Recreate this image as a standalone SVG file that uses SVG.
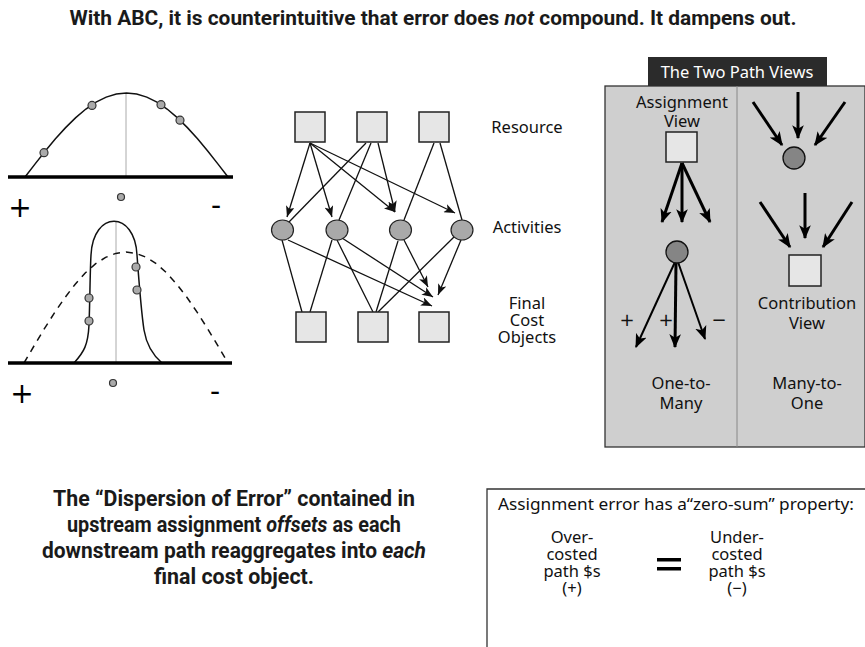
<svg xmlns="http://www.w3.org/2000/svg" width="865" height="647" viewBox="0 0 865 647">
<style>
.t{font-family:"Noto Sans","Open Sans",sans-serif;font-size:16.5px;fill:#111;text-anchor:middle}
.hb{font-family:"Liberation Sans Narrow","Roboto","Liberation Sans",sans-serif;font-weight:bold;fill:#1a1a1a;text-anchor:middle}
.box{fill:#e6e6e6;stroke:#222;stroke-width:1.5}
.act{fill:#a9a9a9;stroke:#222;stroke-width:1.2}
.dot{fill:#aaa;stroke:#333;stroke-width:1.2}
.cn{stroke:#111;stroke-width:1.3;fill:none}
.ar{marker-end:url(#ah)}
.bar{stroke:#000;stroke-width:3;fill:none;marker-end:url(#ahb)}
.mar{stroke:#000;stroke-width:2;fill:none;marker-end:url(#ahb)}
.pc{fill:#858585;stroke:#111;stroke-width:1.3}
.curve{fill:none;stroke:#111;stroke-width:1.5}
.axis{stroke:#000;stroke-width:3.5}
.mid{stroke:#aaa;stroke-width:1}
.pm{font-family:"DejaVu Sans",sans-serif;font-size:28px;fill:#000;text-anchor:middle}
.sg{font-family:"DejaVu Sans",sans-serif;font-size:18px;fill:#111;text-anchor:middle}
</style>
<defs>
<marker id="ah" viewBox="0 0 10 8" refX="10" refY="4" markerWidth="11" markerHeight="9" markerUnits="userSpaceOnUse" orient="auto"><path d="M0,0 L10,4 L0,8 L2.5,4 z" fill="#111"/></marker>
<marker id="ahb" viewBox="0 0 12 10" refX="11" refY="5" markerWidth="14" markerHeight="12" markerUnits="userSpaceOnUse" orient="auto"><path d="M0,0 L12,5 L0,10 L3,5 z" fill="#000"/></marker>
</defs>
<rect width="865" height="647" fill="#fff"/>

<text class="hb" x="433" y="25" font-size="20" textLength="727" lengthAdjust="spacingAndGlyphs">With ABC, it is counterintuitive that error does <tspan font-style="italic">not</tspan> compound. It dampens out.</text>

<g id="dist-top">
<line class="mid" x1="126" y1="93" x2="126" y2="177"/>
<path class="curve" d="M25,177 L35.15,163.86 L45.3,151.04 L55.45,138.86 L65.6,127.63 L75.75,117.6 L85.9,109.04 L96.05,102.16 L106.2,97.11 L116.35,94.03 L126.5,93 L136.65,94.03 L146.8,97.11 L156.95,102.16 L167.1,109.04 L177.25,117.6 L187.4,127.63 L197.55,138.86 L207.7,151.04 L217.85,163.86 L228,177"/>
<line class="axis" x1="8" y1="177" x2="233" y2="177"/>
<circle class="dot" cx="44" cy="152.7" r="4"/>
<circle class="dot" cx="92" cy="105.4" r="4"/>
<circle class="dot" cx="161" cy="104.7" r="4"/>
<circle class="dot" cx="180" cy="120.2" r="4"/>
<circle class="dot" cx="121" cy="197" r="3.5"/>
<text class="pm" x="20" y="217">+</text>
<text class="pm" x="216" y="215">-</text>
</g>

<g id="dist-bottom">
<line class="mid" x1="116" y1="221" x2="116" y2="363"/>
<path class="curve" stroke-dasharray="7,6" d="M24,363 L34.2,345.6 L44.4,328.7 L54.6,312.6 L64.8,297.8 L75,284.5 L85.2,273 L95.4,263.9 L105.6,257.4 L115.8,253.4 L126,252 L136.2,253.4 L146.4,257.4 L156.6,263.9 L166.8,273 L177,284.5 L187.2,297.8 L197.4,312.6 L207.6,328.7 L217.8,345.6 L228,363"/>
<path class="curve" d="M74,363 C84,352 88,345 89,325 C90,300 90,272 91,255 C93,210 135,210 137,255 C139,282 141,310 144,330 C147,348 155,357 162,363"/>
<line class="axis" x1="8" y1="363" x2="232" y2="363"/>
<circle class="dot" cx="89" cy="298" r="4"/>
<circle class="dot" cx="89" cy="321" r="4"/>
<circle class="dot" cx="136" cy="267" r="4"/>
<circle class="dot" cx="137" cy="290" r="4"/>
<circle class="dot" cx="113" cy="383" r="3.5"/>
<text class="pm" x="22" y="403">+</text>
<text class="pm" x="215" y="401">-</text>
</g>

<g id="connectors">
<line class="cn ar" x1="310" y1="143" x2="287" y2="217"/>
<line class="cn ar" x1="310" y1="143" x2="332" y2="217"/>
<line class="cn ar" x1="310" y1="143" x2="395" y2="212"/>
<line class="cn ar" x1="310" y1="143" x2="455" y2="213"/>
<line class="cn" x1="366" y1="143" x2="289" y2="222"/>
<line class="cn" x1="371" y1="143" x2="339" y2="220"/>
<line class="cn ar" x1="378" y1="143" x2="395" y2="212"/>
<line class="cn" x1="434" y1="143" x2="404" y2="220"/>
<line class="cn" x1="440" y1="143" x2="462" y2="220"/>
<line class="cn" x1="282" y1="240" x2="302" y2="312"/>
<line class="cn ar" x1="288" y1="240" x2="432" y2="306"/>
<line class="cn" x1="332" y1="240" x2="310" y2="312"/>
<line class="cn" x1="337" y1="240" x2="373" y2="312"/>
<line class="cn ar" x1="342" y1="238" x2="433" y2="297"/>
<line class="cn" x1="398" y1="241" x2="376" y2="312"/>
<line class="cn ar" x1="404" y1="240" x2="428" y2="287"/>
<line class="cn" x1="455" y1="236" x2="378" y2="312"/>
<line class="cn ar" x1="461" y1="240" x2="438" y2="295"/>
</g>

<g id="res1"><rect class="box" x="295" y="112" width="30" height="30"/></g>
<g id="res2"><rect class="box" x="357" y="112" width="30" height="30"/></g>
<g id="res3"><rect class="box" x="419" y="112" width="30" height="30"/></g>
<g id="act1"><ellipse class="act" cx="282.5" cy="230" rx="11" ry="10"/></g>
<g id="act2"><ellipse class="act" cx="337" cy="230" rx="11" ry="10"/></g>
<g id="act3"><ellipse class="act" cx="400.5" cy="230" rx="11" ry="10"/></g>
<g id="act4"><ellipse class="act" cx="462" cy="230" rx="11" ry="10"/></g>
<g id="fco1"><rect class="box" x="296" y="312" width="30" height="30"/></g>
<g id="fco2"><rect class="box" x="358" y="312" width="30" height="30"/></g>
<g id="fco3"><rect class="box" x="419" y="312" width="30" height="30"/></g>

<g id="labels">
<text class="t" x="527" y="133">Resource</text>
<text class="t" x="527" y="233">Activities</text>
<text class="t" x="527" y="309">Final</text>
<text class="t" x="527" y="326">Cost</text>
<text class="t" x="527" y="343">Objects</text>
</g>

<g id="path-views">
<rect x="605" y="86" width="260" height="361" fill="#cfcfcf" stroke="#333" stroke-width="1.3"/>
<line x1="737" y1="86" x2="737" y2="447" stroke="#888" stroke-width="1"/>
<rect x="648" y="57" width="179" height="29" fill="#2b2b2b"/>
<text class="t" x="737" y="78" font-size="17.5" style="fill:#fff">The Two Path Views</text>
</g>

<g id="assignment-view">
<text class="t" x="682" y="108" font-size="17">Assignment</text>
<text class="t" x="682" y="127" font-size="17">View</text>
<rect class="box" x="666" y="132" width="31" height="30"/>
<line class="bar" x1="682" y1="163" x2="662" y2="222"/>
<line class="bar" x1="682" y1="163" x2="682" y2="222"/>
<line class="bar" x1="682" y1="163" x2="710" y2="222"/>
<line class="mar" x1="675" y1="262" x2="636" y2="347"/>
<line class="bar" x1="676" y1="262" x2="675" y2="347"/>
<line class="mar" x1="678" y1="262" x2="705" y2="339"/>
<circle class="pc" cx="677" cy="252" r="11"/>
<text class="sg" x="627" y="326">+</text>
<text class="sg" x="666" y="326">+</text>
<text class="sg" x="719" y="326">−</text>
<text class="t" x="681" y="389" font-size="17">One-to-</text>
<text class="t" x="681" y="409" font-size="17">Many</text>
</g>

<g id="contribution-view">
<line class="bar" x1="753" y1="102" x2="782" y2="145"/>
<line class="bar" x1="798" y1="92" x2="798" y2="138"/>
<line class="bar" x1="845" y1="102" x2="815" y2="145"/>
<circle class="pc" cx="794" cy="158" r="11"/>
<line class="bar" x1="760" y1="202" x2="790" y2="247"/>
<line class="bar" x1="805" y1="193" x2="805" y2="238"/>
<line class="bar" x1="852" y1="202" x2="823" y2="247"/>
<rect class="box" x="789" y="255" width="32" height="31"/>
<text class="t" x="807" y="309" font-size="17">Contribution</text>
<text class="t" x="807" y="329" font-size="17">View</text>
<text class="t" x="807" y="389" font-size="17">Many-to-</text>
<text class="t" x="807" y="409" font-size="17">One</text>
</g>

<g id="dispersion-text">
<text class="hb" x="234" y="506" font-size="22" textLength="362" lengthAdjust="spacingAndGlyphs">The “Dispersion of Error” contained in</text>
<text class="hb" x="234" y="532" font-size="22" textLength="334" lengthAdjust="spacingAndGlyphs">upstream assignment <tspan font-style="italic">offsets</tspan> as each</text>
<text class="hb" x="234" y="558" font-size="22" textLength="384" lengthAdjust="spacingAndGlyphs">downstream path reaggregates into <tspan font-style="italic">each</tspan></text>
<text class="hb" x="234" y="584" font-size="22" textLength="160" lengthAdjust="spacingAndGlyphs">final cost object.</text>
</g>

<g id="zero-sum">
<path d="M487,647 L487,489 L865,489" fill="none" stroke="#333" stroke-width="1.3"/>
<text class="t" x="676" y="510" textLength="356" lengthAdjust="spacingAndGlyphs">Assignment error has a“zero-sum” property:</text>
<text class="t" x="572" y="543">Over-</text>
<text class="t" x="572" y="560">costed</text>
<text class="t" x="572" y="577">path $s</text>
<text class="t" x="572" y="594">(+)</text>
<rect x="657" y="558" width="24" height="3.5" fill="#000"/>
<rect x="657" y="567" width="24" height="3.5" fill="#000"/>
<text class="t" x="737" y="543">Under-</text>
<text class="t" x="737" y="560">costed</text>
<text class="t" x="737" y="577">path $s</text>
<text class="t" x="737" y="594">(−)</text>
</g>
</svg>
